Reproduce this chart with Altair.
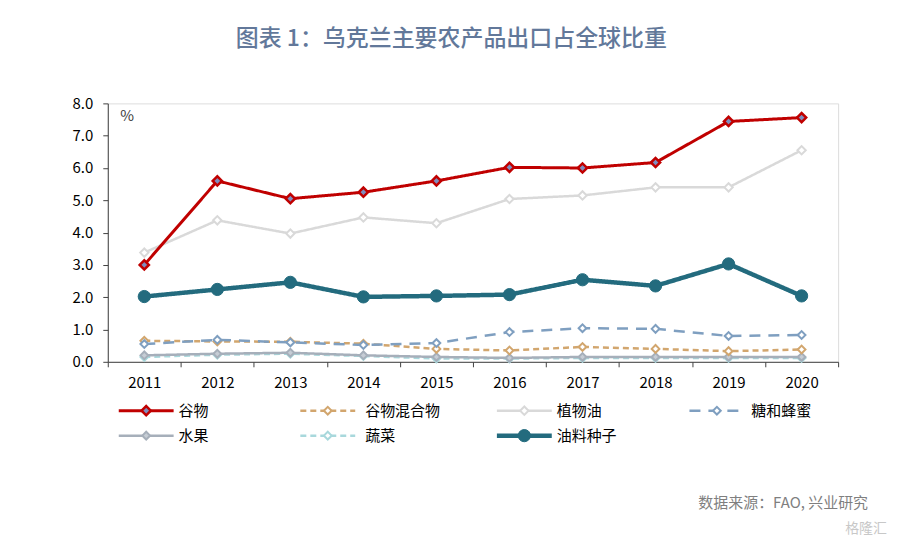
import altair as alt
import pandas as pd

years = ["2011", "2012", "2013", "2014", "2015", "2016", "2017", "2018", "2019", "2020"]
series_names = ["谷物", "谷物混合物", "植物油", "糖和蜂蜜", "水果", "蔬菜", "油料种子"]
grain = [3.00, 5.60, 5.05, 5.25, 5.60, 6.02, 6.00, 6.17, 7.44, 7.56]
grain_mix = [0.65, 0.63, 0.62, 0.56, 0.40, 0.35, 0.46, 0.40, 0.33, 0.38]
veg_oil = [3.38, 4.38, 3.97, 4.47, 4.29, 5.04, 5.15, 5.40, 5.40, 6.55]
sugar_honey = [0.55, 0.68, 0.60, 0.52, 0.58, 0.92, 1.04, 1.02, 0.80, 0.83]
fruit = [0.20, 0.25, 0.28, 0.20, 0.15, 0.12, 0.15, 0.15, 0.15, 0.15]
vegetables = [0.15, 0.22, 0.25, 0.18, 0.10, 0.10, 0.12, 0.12, 0.12, 0.12]
oilseeds = [2.02, 2.24, 2.46, 2.01, 2.04, 2.08, 2.54, 2.35, 3.03, 2.04]
values = [grain, grain_mix, veg_oil, sugar_honey, fruit, vegetables, oilseeds]

styles = {
    "谷物": dict(color="#C00000", dash=[1, 0], width=3, shape="diamond", size=85, fill="#7F8DBE", pstroke=2.5),
    "谷物混合物": dict(color="#D2A66E", dash=[6, 4], width=2.5, shape="diamond", size=60, fill="#FFFFFF", pstroke=2),
    "植物油": dict(color="#D9D9D9", dash=[1, 0], width=2.5, shape="diamond", size=70, fill="#FFFFFF", pstroke=2),
    "糖和蜂蜜": dict(color="#7F9FC0", dash=[11, 8], width=2.5, shape="diamond", size=60, fill="#FFFFFF", pstroke=2),
    "水果": dict(color="#A6AFBA", dash=[1, 0], width=2.5, shape="diamond", size=60, fill="#C6CDD5", pstroke=2),
    "蔬菜": dict(color="#A8D8DC", dash=[6, 4], width=2.5, shape="diamond", size=60, fill="#FFFFFF", pstroke=2),
    "油料种子": dict(color="#236B7E", dash=[1, 0], width=4.5, shape="circle", size=150, fill="#236B7E", pstroke=1),
}

# legend layout (column start offsets, px from the plot's left edge)
leg_col_x = [11, 193, 390, 583]
leg_text_gap = [60, 65, 60, 62]

rows = []
for name, vals in zip(series_names, values):
    for y, v in zip(years, vals):
        rows.append({"series": name, "year": y, "value": v})
df = pd.DataFrame(rows)

FONT = "Noto Sans CJK SC"
x_enc = alt.X("year:O", sort=years,
              scale=alt.Scale(paddingInner=0, paddingOuter=0),
              axis=alt.Axis(title=None, labelAngle=0, labelFontSize=15, labelColor="#000000",
                            labelFont=FONT, tickBand="extent", tickSize=5, tickColor="#404040",
                            domainColor="#404040", labelPadding=9, grid=False))
y_enc = alt.Y("value:Q", scale=alt.Scale(domain=[0, 8], nice=False),
              axis=alt.Axis(title="%", titleAngle=0, titleX=12, titleY=12, titleAlign="left",
                            titleBaseline="middle", titleFontSize=15, titleFontWeight="normal",
                            titleColor="#404040", titleFont=FONT,
                            values=[0, 1, 2, 3, 4, 5, 6, 7, 8], format=".1f",
                            labelFontSize=15, labelColor="#000000", labelFont=FONT,
                            tickSize=5, tickColor="#404040", domainColor="#404040",
                            labelPadding=10, grid=False))

draw_order = ["蔬菜", "水果", "谷物混合物", "糖和蜂蜜", "植物油", "油料种子", "谷物"]
layers = []
for name in draw_order:
    s = styles[name]
    base = alt.Chart(df).transform_filter(alt.datum.series == name)
    layers.append(base.mark_line(color=s["color"], strokeWidth=s["width"], strokeDash=s["dash"])
                  .encode(x=x_enc, y=y_enc))
    layers.append(base.mark_point(shape=s["shape"], size=s["size"], filled=False, fill=s["fill"],
                                  stroke=s["color"], strokeWidth=s["pstroke"], opacity=1)
                  .encode(x=x_enc, y=y_enc))

main = alt.layer(*layers).properties(width=732, height=259)

# legend panel
leg_rows = []
for i, name in enumerate(series_names):
    col, row = i % 4, i // 4
    x0 = leg_col_x[col]
    leg_rows.append({"series": name, "x0": x0, "x1": x0 + 55, "xm": x0 + 27.5,
                     "xt": x0 + leg_text_gap[col], "y": 12 + row * 25})
leg_df = pd.DataFrame(leg_rows)

lx = alt.Scale(domain=[0, 770], range=[0, 770], nice=False, zero=False)
ly = alt.Scale(domain=[0, 140], range=[0, 140], nice=False, zero=False)
leg_layers = []
for name in series_names:
    s = styles[name]
    b = alt.Chart(leg_df).transform_filter(alt.datum.series == name)
    leg_layers.append(b.mark_rule(color=s["color"], strokeWidth=s["width"], strokeDash=s["dash"])
                      .encode(x=alt.X("x0:Q", scale=lx, axis=None), x2="x1:Q",
                              y=alt.Y("y:Q", scale=ly, axis=None)))
    leg_layers.append(b.mark_point(shape=s["shape"], size=s["size"], filled=False, fill=s["fill"],
                                   stroke=s["color"], strokeWidth=s["pstroke"], opacity=1)
                      .encode(x=alt.X("xm:Q", scale=lx, axis=None),
                              y=alt.Y("y:Q", scale=ly, axis=None)))
leg_layers.append(alt.Chart(leg_df).mark_text(align="left", baseline="middle", fontSize=15,
                                              font=FONT, color="#000000")
                  .encode(x=alt.X("xt:Q", scale=lx, axis=None),
                          y=alt.Y("y:Q", scale=ly, axis=None), text="series:N"))

note_df = pd.DataFrame({"x": [762, 781], "y": [105, 131],
                        "t": ["数据来源：FAO, 兴业研究", "格隆汇"],
                        "c": ["#7F7F7F", "#C8C8C8"], "fs": [15, 14]})
leg_layers.append(alt.Chart(note_df).mark_text(align="right", baseline="middle", font=FONT)
                  .encode(x=alt.X("x:Q", scale=lx, axis=None),
                          y=alt.Y("y:Q", scale=ly, axis=None), text="t:N",
                          color=alt.Color("c:N", scale=None),
                          size=alt.Size("fs:Q", scale=None)))

legend_panel = alt.layer(*leg_layers).properties(
    width=770, height=140, view=alt.ViewBackground(stroke="transparent", strokeWidth=0))

chart = alt.vconcat(main, legend_panel, spacing=7).properties(
    title=alt.TitleParams("图表 1：乌克兰主要农产品出口占全球比重", fontSize=23, font=FONT,
                          color="#62789A", fontWeight=500, anchor="middle", offset=45, dx=-28),
    padding={"left": 63, "top": 19, "right": 5, "bottom": 0},
).configure_view(stroke="transparent", strokeWidth=0).configure(background="#FFFFFF")

chart.save("out.html", embed_options={"renderer": "svg", "actions": False})
